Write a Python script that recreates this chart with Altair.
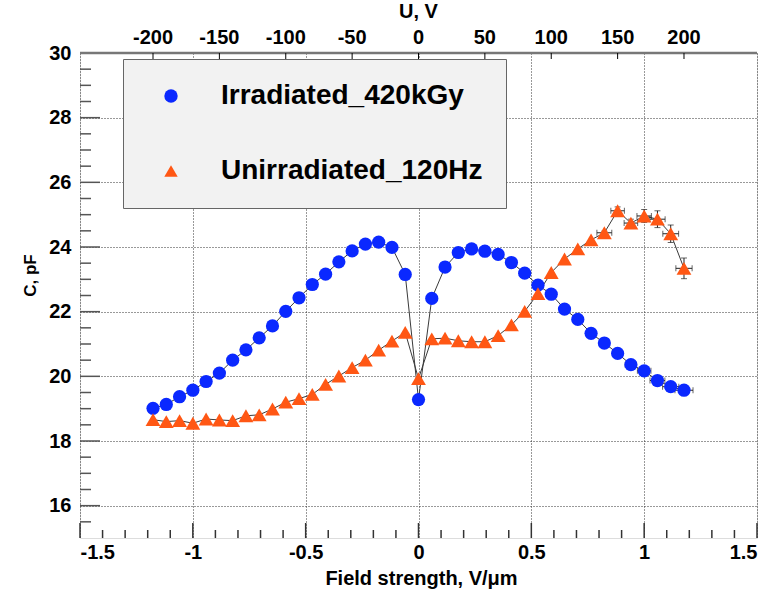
import altair as alt
import pandas as pd

# ---------------- data ----------------
voltage_V = [-200, -190, -180, -170, -160, -150, -140, -130, -120, -110, -100,
             -90, -80, -70, -60, -50, -40, -30, -20, -10, 0, 10, 20, 30, 40, 50,
             60, 70, 80, 90, 100, 110, 120, 130, 140, 150, 160, 170, 180, 190, 200]
thickness_um = 170

cap_irradiated = [19.01, 19.13, 19.37, 19.57, 19.84, 20.10, 20.50, 20.82, 21.19, 21.56,
                  22.01, 22.43, 22.84, 23.16, 23.54, 23.88, 24.09, 24.15, 23.99, 23.15,
                  19.28, 22.41, 23.38, 23.83, 23.94, 23.87, 23.77, 23.52, 23.19, 22.82,
                  22.54, 22.08, 21.76, 21.33, 21.03, 20.71, 20.36, 20.17, 19.87, 19.68, 19.57]
cap_unirradiated = [18.66, 18.60, 18.63, 18.55, 18.68, 18.65, 18.63, 18.78, 18.81, 18.99,
                    19.20, 19.31, 19.44, 19.75, 20.01, 20.27, 20.50, 20.81, 21.09, 21.36,
                    19.93, 21.16, 21.18, 21.10, 21.07, 21.07, 21.26, 21.59, 22.01, 22.56,
                    23.21, 23.63, 23.94, 24.22, 24.44, 25.12, 24.74, 24.96, 24.86, 24.41, 23.34]

# visible error bars (field-strength and capacitance uncertainties)
err_V_irr = [160, 170, 180, 190, 200]
xerr_irr = [0.025, 0.030, 0.033, 0.036, 0.040]
err_V_unirr = [140, 150, 160, 170, 180, 190, 200]
xerr_unirr = [0.033, 0.030, 0.030, 0.032, 0.034, 0.035, 0.036]
yerr_unirr = [0.05, 0.12, 0.12, 0.20, 0.26, 0.27, 0.32]

series_names = ["Irradiated_420kGy", "Unirradiated_120Hz"]
series_colors = ["#0a28ff", "#ff5714"]
series_shapes = ["circle", "triangle-up"]

x_major = [-1.5, -1.0, -0.5, 0.0, 0.5, 1.0, 1.5]
x_minor = [-1.4, -1.3, -1.2, -1.1, -0.9, -0.8, -0.7, -0.6, -0.4, -0.3, -0.2, -0.1,
           0.1, 0.2, 0.3, 0.4, 0.6, 0.7, 0.8, 0.9, 1.1, 1.2, 1.3, 1.4]
y_major = [16, 18, 20, 22, 24, 26, 28, 30]
y_minor = [15.5, 16.5, 17, 17.5, 18.5, 19, 19.5, 20.5, 21, 21.5, 22.5, 23, 23.5,
           24.5, 25, 25.5, 26.5, 27, 27.5, 28.5, 29, 29.5]
top_V = [-200, -150, -100, -50, 0, 50, 100, 150, 200]

FONT = "Liberation Sans"
W, H = 677, 485

# ---------------- tables ----------------
field = [v / thickness_um for v in voltage_V]
df_irr = pd.DataFrame({"field": field, "C": cap_irradiated, "series": series_names[0]})
df_un = pd.DataFrame({"field": field, "C": cap_unirradiated, "series": series_names[1]})

def err_table(vs, caps_all, xe, ye):
    rows = []
    for i, v in enumerate(vs):
        f = v / thickness_um
        c = caps_all[voltage_V.index(v)]
        rows.append({"field": f, "C": c, "xlo": f - xe[i], "xhi": f + xe[i],
                     "ylo": c - (ye[i] if ye else 0), "yhi": c + (ye[i] if ye else 0)})
    return pd.DataFrame(rows)

df_err = pd.concat([err_table(err_V_irr, cap_irradiated, xerr_irr, None),
                    err_table(err_V_unirr, cap_unirradiated, xerr_unirr, yerr_unirr)])
df_verr = err_table(err_V_unirr, cap_unirradiated, xerr_unirr, yerr_unirr)

xscale = alt.Scale(domain=[-1.5, 1.5], nice=False, zero=False)
yscale = alt.Scale(domain=[15, 30], nice=False, zero=False)

legend = alt.Legend(title=None, orient="none", legendX=43, legendY=6, padding=23,
                    rowPadding=47, symbolOffset=11, labelOffset=36, labelFontSize=28,
                    labelFontWeight="bold", labelFont=FONT, labelColor="#000",
                    labelLimit=500, fillColor="#f2f2f2", strokeColor="#666",
                    symbolSize=180, symbolStrokeWidth=0)
color_enc = alt.Color("series:N", scale=alt.Scale(domain=series_names, range=series_colors),
                      legend=legend)
shape_enc = alt.Shape("series:N", scale=alt.Scale(domain=series_names, range=series_shapes),
                      legend=legend)

x_axis = alt.Axis(values=x_major, labelExpr="'' + datum.value", ticks=False, domain=False,
                  grid=True, gridDash=[1, 2], gridColor="#333", gridWidth=1,
                  labelFontSize=20, labelFontWeight="bold", labelFont=FONT, labelColor="#000",
                  labelPadding=4, title="Field strength, V/\u03bcm", titleFontSize=20,
                  titleFont=FONT, titleFontWeight="bold", titleColor="#000",
                  titleY=40, titleX=341, titleBaseline="middle")
y_axis = alt.Axis(values=y_major, labelExpr="'' + datum.value", ticks=False, domain=False,
                  grid=True, gridDash=[1, 2], gridColor="#333", gridWidth=1,
                  labelFontSize=20, labelFontWeight="bold", labelFont=FONT, labelColor="#000",
                  labelPadding=9, title="C, pF", titleFontSize=17, titleFont=FONT,
                  titleFontWeight="bold", titleColor="#000", titleX=-50, titleY=222,
                  titleBaseline="middle", titleAlign="center")

base_x = alt.X("field:Q", scale=xscale, axis=x_axis)
base_y = alt.Y("C:Q", scale=yscale, axis=y_axis)

# lines
lines = alt.Chart(pd.concat([df_irr, df_un])).mark_line(color="#3a3a3a", strokeWidth=1).encode(
    x=base_x, y=base_y, detail="series:N")

# error bars
hbar = alt.Chart(df_err).mark_rule(color="#222", strokeWidth=1).encode(
    x="xlo:Q", x2="xhi:Q", y="C:Q")
hcap_lo = alt.Chart(df_err).mark_tick(orient="vertical", color="#222", size=6, thickness=1).encode(
    x="xlo:Q", y="C:Q")
hcap_hi = alt.Chart(df_err).mark_tick(orient="vertical", color="#222", size=6, thickness=1).encode(
    x="xhi:Q", y="C:Q")
vbar = alt.Chart(df_verr).mark_rule(color="#222", strokeWidth=1).encode(
    x="field:Q", y="ylo:Q", y2="yhi:Q")
vcap_lo = alt.Chart(df_verr).mark_tick(orient="horizontal", color="#222", size=6, thickness=1).encode(
    x="field:Q", y="ylo:Q")
vcap_hi = alt.Chart(df_verr).mark_tick(orient="horizontal", color="#222", size=6, thickness=1).encode(
    x="field:Q", y="yhi:Q")

# points
pts_irr = alt.Chart(df_irr).mark_point(filled=True, opacity=1, size=175).encode(
    x="field:Q", y="C:Q", color=color_enc, shape=shape_enc)
pts_un = alt.Chart(df_un).mark_point(filled=True, opacity=1, size=220).encode(
    x="field:Q", y="C:Q", color=color_enc, shape=shape_enc)

# inward ticks
ymaj = alt.Chart(pd.DataFrame({"C": y_major})).mark_rule(color="#555", strokeWidth=1.5).encode(
    y="C:Q", x=alt.value(0), x2=alt.value(20))
ymin = alt.Chart(pd.DataFrame({"C": y_minor})).mark_rule(color="#555", strokeWidth=1.5).encode(
    y="C:Q", x=alt.value(0), x2=alt.value(11))
xmaj = alt.Chart(pd.DataFrame({"field": x_major})).mark_rule(color="#333", strokeWidth=1.5).encode(
    x="field:Q", y=alt.value(H), y2=alt.value(H - 15))
xmin = alt.Chart(pd.DataFrame({"field": x_minor})).mark_rule(color="#333", strokeWidth=1.5).encode(
    x="field:Q", y=alt.value(H), y2=alt.value(H - 8))

# top axis (U, V)
top_df = pd.DataFrame({"V": top_V, "lab": [str(v) for v in top_V]})
top_line = alt.Chart(pd.DataFrame({"C": [30]})).mark_rule(color="#777", strokeWidth=2.5).encode(
    y="C:Q", x=alt.value(0), x2=alt.value(W))
top_ticks = alt.Chart(top_df).transform_calculate(field=f"datum.V / {thickness_um}").mark_rule(
    color="#000", strokeWidth=1).encode(x="field:Q", y=alt.value(0), y2=alt.value(6))
top_labels = alt.Chart(top_df).transform_calculate(field=f"datum.V / {thickness_um}").mark_text(
    font=FONT, fontSize=20, fontWeight="bold", color="#000", baseline="middle").encode(
    x="field:Q", y=alt.value(-15), text="lab:N")
top_title = alt.Chart(pd.DataFrame({"field": [0.0], "t": ["U, V"]})).mark_text(
    font=FONT, fontSize=20, fontWeight="bold", color="#000", baseline="middle").encode(
    x="field:Q", y=alt.value(-41), text="t:N")

chart = alt.layer(
    lines, hbar, hcap_lo, hcap_hi, vbar, vcap_lo, vcap_hi, pts_irr, pts_un,
    ymaj, ymin, xmaj, xmin, top_line, top_ticks, top_labels, top_title
).properties(
    width=W, height=H,
    autosize=alt.AutoSizeParams(type="none"),
    padding={"left": 80, "top": 53, "right": 16, "bottom": 54},
).configure_view(
    stroke="#222", strokeWidth=1.5
).configure(background="#ffffff")

chart.save("out.html", embed_options={"renderer": "svg", "actions": False})
